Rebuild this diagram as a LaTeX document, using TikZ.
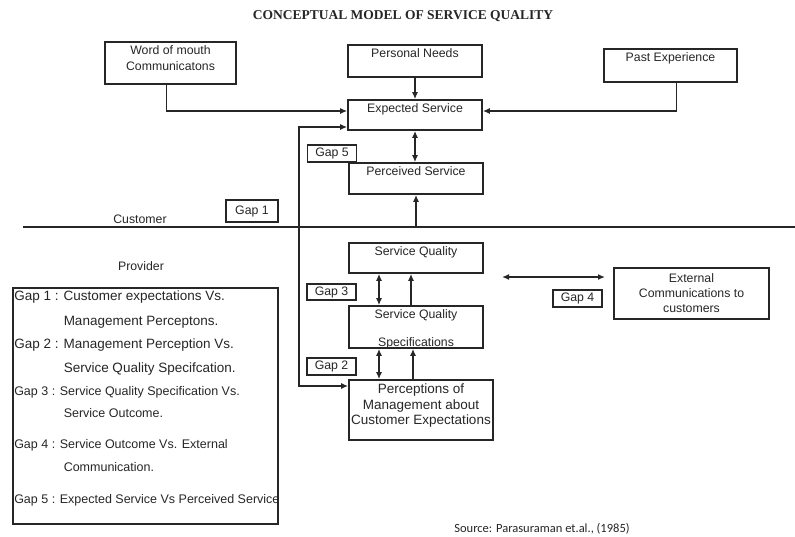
\documentclass[tikz,border=0pt]{standalone}
\usepackage{fontspec}
\setmainfont{Liberation Sans}
\newfontfamily\titlefont{Liberation Serif}
\newfontfamily\srcfont{Carlito}
\usetikzlibrary{arrows.meta}
\tikzstyle{blk}=[draw,line width=1.7pt,inner sep=0pt]
\tikzstyle{gap}=[draw,fill=white,line width=1.4pt,minimum width=49pt,minimum height=17pt,inner sep=0pt]
\tikzstyle{legA}=[anchor=west,inner sep=0pt,font=\fontsize{13.5}{16}\selectfont]
\tikzstyle{legB}=[anchor=west,inner sep=0pt,font=\fontsize{12.5}{15}\selectfont]
\tikzset{toptxt/.style={label={[anchor=north,align=center,inner sep=0pt,yshift=-4pt]north:{#1}}}}

\begin{document}
\begin{tikzpicture}[x=1pt,y=-1pt,font=\fontsize{12.3}{16}\selectfont,
	>={Latex[length=7pt,width=6pt]},color=black!85,line width=1.5pt]

	\useasboundingbox (0,0) rectangle (795,536);

	\node[font={\titlefont\bfseries\fontsize{13.5}{16}\selectfont}] (title) at (403,16) {CONCEPTUAL MODEL OF SERVICE QUALITY};

	% customer side
	\node[blk,minimum width=131pt,minimum height=42pt,toptxt={Word of mouth\\Communicatons}] (wom) at (170.5,63) {};
	\node[blk,minimum width=134pt,minimum height=32pt,toptxt={Personal Needs}] (pn) at (415,61) {};
	\node[blk,minimum width=133pt,minimum height=33pt,toptxt={Past Experience}] (pe) at (670.5,65.5) {};
	\node[blk,minimum width=134pt,minimum height=30pt,toptxt={Expected Service}] (es) at (415,115) {};
	\node[blk,minimum width=134pt,minimum height=31pt,toptxt={Perceived Service}] (ps) at (416,178.5) {};

	% provider side
	\node[blk,minimum width=134pt,minimum height=30pt,toptxt={Service Quality}] (sq) at (416,258) {};
	\node[blk,minimum width=134pt,minimum height=42pt,toptxt={Service Quality\\[12pt]Specifications}] (sqs) at (416,327) {};
	\node[blk,minimum width=144pt,minimum height=60pt,
		label={[anchor=north,align=center,inner sep=0pt,yshift=-4pt,font=\fontsize{13.5}{15.5}\selectfont]north:{Perceptions of\\Management about\\Customer Expectations}}] (pme) at (421,410) {};
	\node[blk,minimum width=155pt,minimum height=51pt,align=center,font=\fontsize{12.3}{15}\selectfont] (ext) at (691.5,293.5) {External\\Communications to\\customers};

	% divider
	\coordinate (dl) at (23,227);
	\coordinate (dr) at (795,227);
	\coordinate (fb) at (299,227);
	\draw (dl) -- (dr);
	\node (cust) at (140,219) {Customer};
	\node (prov) at (141,266) {Provider};

	% connectors
	\draw[->] ([xshift=-4pt]wom.south) |- ([yshift=4pt]es.west);
	\draw[->] ([xshift=6pt]pe.south) |- ([yshift=4pt]es.east);
	\draw[->] (pn) -- (es);
	\draw[<->] (es.south) -- (es.south |- ps.north);
	\draw[->] (ps.south |- dl) -- (ps.south);
	\draw[<->] ([yshift=-12pt]es.west) -| (fb) |- ([yshift=24pt]pme.west);
	\draw[<->] ([xshift=-37pt]sq.south) -- ([xshift=-37pt]sq.south |- sqs.north);
	\draw[->] ([xshift=-5pt]sq.south |- sqs.north) -- ([xshift=-5pt]sq.south);
	\draw[<->] ([xshift=-37pt]sqs.south) -- ([xshift=-37pt]sqs.south |- pme.north);
	\draw[->] ([xshift=-3pt]sqs.south |- pme.north) -- ([xshift=-3pt]sqs.south);
	\coordinate (g4a) at (502,277);
	\coordinate (g4b) at (605,277);
	\draw[<->] (g4a) -- (g4b);

	% gaps
	\node[gap] (g5) at (332,153.5) {Gap 5};
	\node[gap,minimum width=52pt,minimum height=22pt] (g1) at (252,211) {Gap 1};
	\node[gap,minimum height=16pt] (g3) at (331.5,292) {Gap 3};
	\node[gap] (g2) at (331.5,366.5) {Gap 2};
	\node[gap] (g4) at (577.5,298.5) {Gap 4};

	% legend
	\node[blk,minimum width=265pt,minimum height=236pt] (leg) at (145.5,406) {};
	\node[legA] (l1) at (13.5,297) {Gap 1 : Customer expectations Vs.};
	\node[legA] (l2) at (63,322) {Management Perceptons.};
	\node[legA] (l3) at (13.5,345) {Gap 2 : Management Perception Vs.};
	\node[legA] (l4) at (63,369) {Service Quality Specifcation.};
	\node[legB] (l5) at (13.5,392) {Gap 3 : Service Quality Specification Vs.};
	\node[legB] (l6) at (63,413) {Service Outcome.};
	\node[legB] (l7) at (13.5,445) {Gap 4 : Service Outcome Vs. External};
	\node[legB] (l8) at (63,467) {Communication.};
	\node[legB] (l9) at (13.5,500) {Gap 5 : Expected Service Vs Perceived Service};

	\node[font=\srcfont\fontsize{12.5}{15}\selectfont] (src) at (542,529) {Source: Parasuraman et.al., (1985)};

\end{tikzpicture}
\end{document}
